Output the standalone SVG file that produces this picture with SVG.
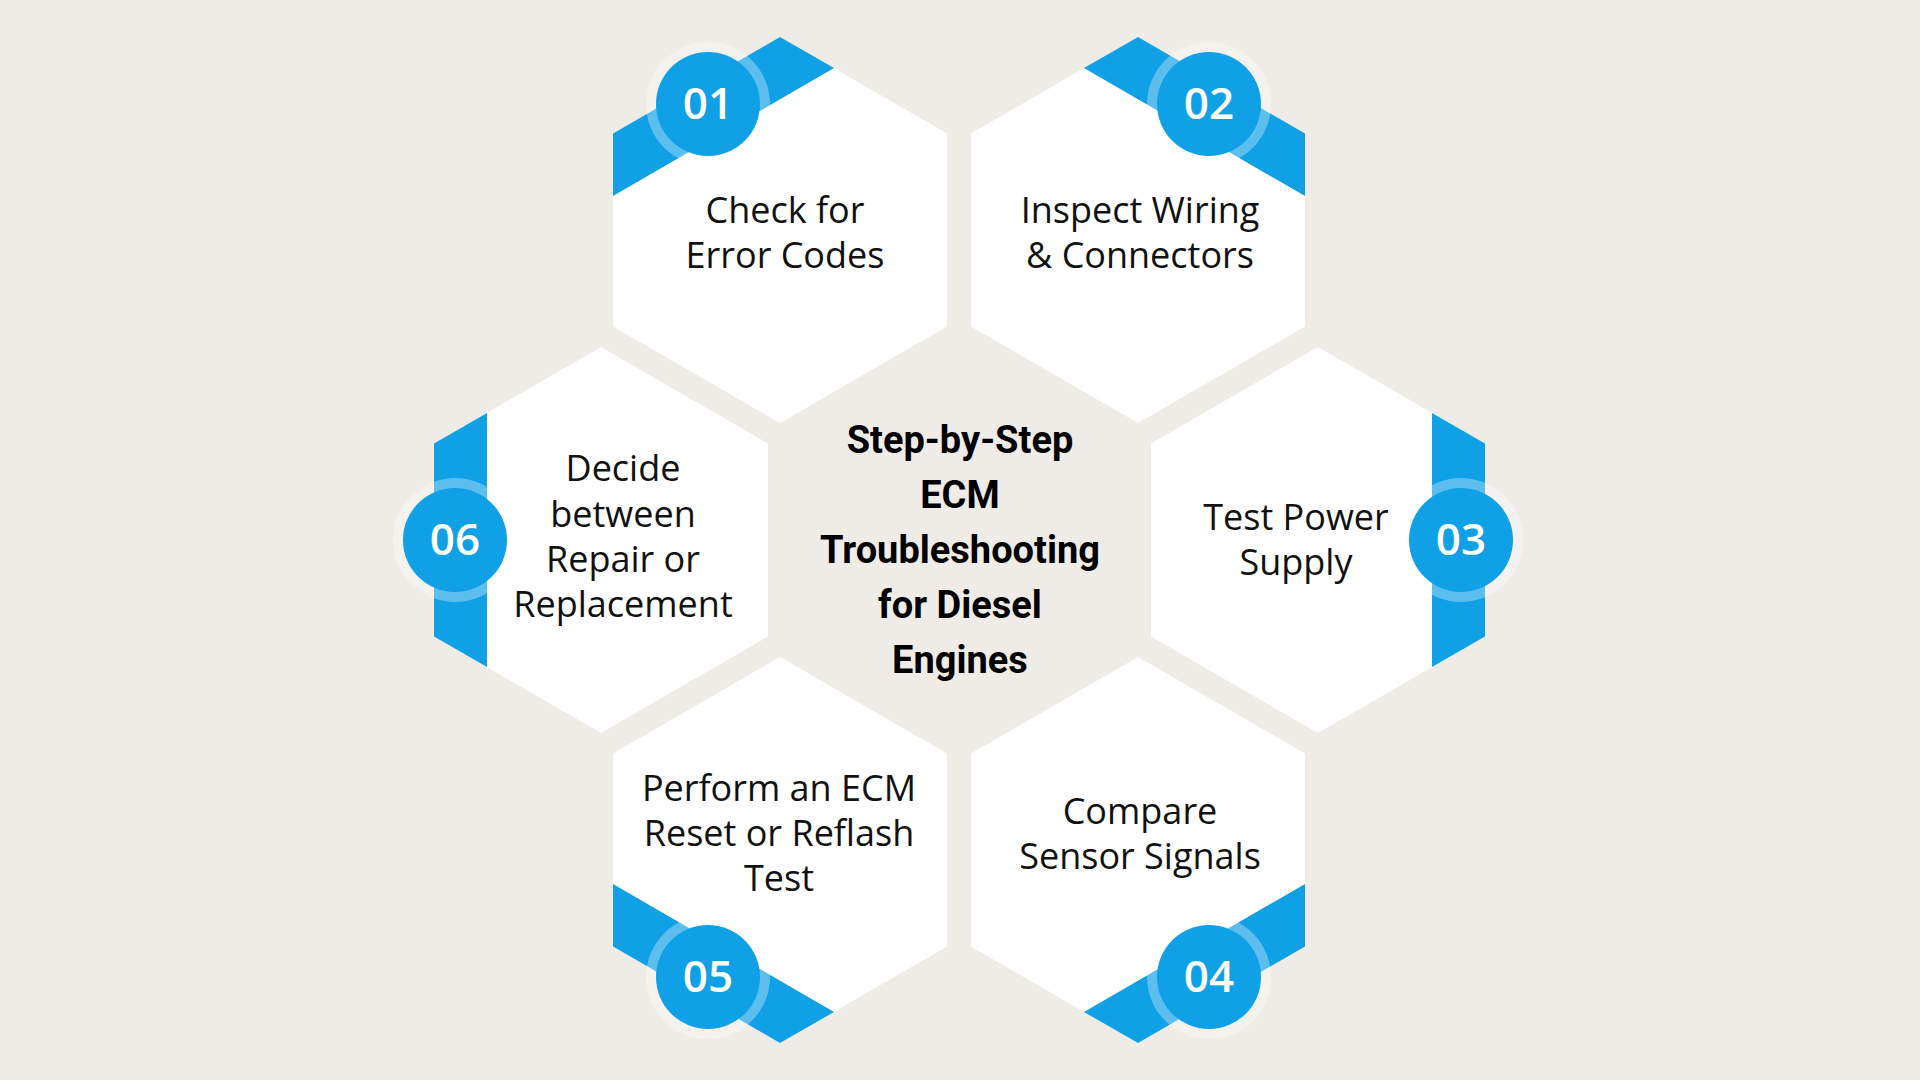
<svg xmlns="http://www.w3.org/2000/svg" width="1920" height="1080" viewBox="0 0 1920 1080">
<defs>
<style>
.hex{fill:#ffffff}
.band{fill:#0fa0e6}
.ring{fill:#ffffff;fill-opacity:0.32}
.badge{fill:#0fa0e6}
.num{font-family:"Open Sans","Noto Sans",sans-serif;font-weight:600;font-size:44px;fill:#ffffff;text-anchor:middle}
.lbl{font-family:"Open Sans","Noto Sans",sans-serif;font-size:36px;fill:#111111;text-anchor:middle}
.ttl{font-family:"Roboto","Noto Sans",sans-serif;font-weight:700;font-size:38px;fill:#000000;text-anchor:middle}
</style>
<polygon id="hx" points="0,-193 167,-96.5 167,96.5 0,193 -167,96.5 -167,-96.5"/>
</defs>
<rect width="1920" height="1080" fill="#efece8"/>
<g id="connectors"></g>

<g id="node1">
<use href="#hx" x="780" y="230" class="hex"/>
<polygon class="band" points="613,133.5 780,37 834,68 613,196"/>
<circle cx="708" cy="104" r="62" class="ring"/><circle cx="708" cy="104" r="52" class="badge"/>
<text x="708" y="119" class="num">01</text>
<text x="785" y="223" class="lbl">Check for</text><text x="785" y="268" class="lbl">Error Codes</text>
</g>

<g id="node2">
<use href="#hx" x="1138" y="230" class="hex"/>
<polygon class="band" points="1305,133.5 1138,37 1084,68 1305,196"/>
<circle cx="1209" cy="104" r="62" class="ring"/><circle cx="1209" cy="104" r="52" class="badge"/>
<text x="1209" y="119" class="num">02</text>
<text x="1140" y="223" class="lbl">Inspect Wiring</text><text x="1140" y="268" class="lbl">&amp; Connectors</text>
</g>

<g id="node3">
<use href="#hx" x="1318" y="540" class="hex"/>
<polygon class="band" points="1432,413 1485,443.5 1485,636.5 1432,667"/>
<circle cx="1461" cy="540" r="62" class="ring"/><circle cx="1461" cy="540" r="52" class="badge"/>
<text x="1461" y="555" class="num">03</text>
<text x="1296" y="530" class="lbl">Test Power</text><text x="1296" y="575" class="lbl">Supply</text>
</g>

<g id="node4">
<use href="#hx" x="1138" y="850" class="hex"/>
<polygon class="band" points="1305,946.5 1138,1043 1084,1012 1305,884"/>
<circle cx="1209" cy="977" r="62" class="ring"/><circle cx="1209" cy="977" r="52" class="badge"/>
<text x="1209" y="992" class="num">04</text>
<text x="1140" y="824" class="lbl">Compare</text><text x="1140" y="869" class="lbl">Sensor Signals</text>
</g>

<g id="node5">
<use href="#hx" x="780" y="850" class="hex"/>
<polygon class="band" points="613,946.5 780,1043 834,1012 613,884"/>
<circle cx="708" cy="977" r="62" class="ring"/><circle cx="708" cy="977" r="52" class="badge"/>
<text x="708" y="992" class="num">05</text>
<text x="779" y="801" class="lbl">Perform an ECM</text><text x="779" y="846" class="lbl">Reset or Reflash</text><text x="779" y="891" class="lbl">Test</text>
</g>

<g id="node6">
<use href="#hx" x="601" y="540" class="hex"/>
<polygon class="band" points="487,413 434,443.5 434,636.5 487,667"/>
<circle cx="455" cy="540" r="62" class="ring"/><circle cx="455" cy="540" r="52" class="badge"/>
<text x="455" y="555" class="num">06</text>
<text x="623" y="481" class="lbl">Decide</text><text x="623" y="527" class="lbl">between</text><text x="623" y="572" class="lbl">Repair or</text><text x="623" y="617" class="lbl">Replacement</text>
</g>

<g id="title">
<text x="960" y="453" class="ttl">Step-by-Step</text>
<text x="960" y="508" class="ttl">ECM</text>
<text x="960" y="563" class="ttl">Troubleshooting</text>
<text x="960" y="618" class="ttl">for Diesel</text>
<text x="960" y="673" class="ttl">Engines</text>
</g>
</svg>
